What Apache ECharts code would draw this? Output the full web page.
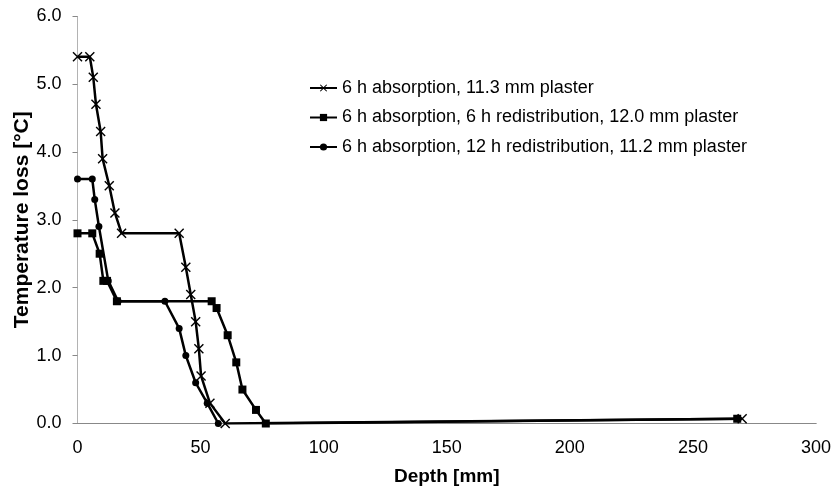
<!DOCTYPE html>
<html>
<head>
<meta charset="utf-8">
<script src="https://cdn.jsdelivr.net/npm/echarts@6/dist/echarts.min.js"></script>
<style>
html, body { margin: 0; padding: 0; background: #fff; }
#chart { width: 834px; height: 495px; }
</style>
</head>
<body>
<div id="chart"></div>
<script>
var seriesNames = [
    '6 h absorption, 11.3 mm plaster',
    '6 h absorption, 6 h redistribution, 12.0 mm plaster',
    '6 h absorption, 12 h redistribution, 11.2 mm plaster'
];

// 6 h absorption
var depthA = [0, 5, 6.4, 7.5, 9.4, 10.2, 12.9, 15.2, 17.9, 41.3, 44, 46, 48, 49.3, 50.2, 53.8, 60, 270];
var lossA  = [5.4, 5.4, 5.1, 4.7, 4.3, 3.9, 3.5, 3.1, 2.8, 2.8, 2.3, 1.9, 1.5, 1.1, 0.7, 0.3, 0, 0.07];

// 6 h redistribution
var depthB = [0, 6, 9, 10.5, 12, 16, 54.5, 56.5, 61, 64.5, 67, 72.5, 76.5, 268];
var lossB  = [2.8, 2.8, 2.5, 2.1, 2.1, 1.8, 1.8, 1.7, 1.3, 0.9, 0.5, 0.2, 0, 0.07];

// 12 h redistribution
var depthC = [0, 6, 7, 8.7, 12.5, 16.5, 35.5, 41.3, 44, 48, 52.7, 57.2];
var lossC  = [3.6, 3.6, 3.3, 2.9, 2.1, 1.8, 1.8, 1.4, 1.0, 0.6, 0.3, 0];

var yTicks = [0, 1, 2, 3, 4, 5, 6];

function pairs(xs, ys) {
    var out = [];
    for (var i = 0; i < xs.length; i++) {
        out.push([xs[i], ys[i]]);
    }
    return out;
}

var crossPath = 'path://M0,1L1,0L5,4L9,0L10,1L6,5L10,9L9,10L5,6L1,10L0,9L4,5Z';
var font = 'Liberation Sans, Arial, sans-serif';

var myChart = echarts.init(document.getElementById('chart'));

function lineSeries(name, data, symbol, size) {
    return {
        name: name,
        type: 'line',
        data: data,
        symbol: symbol,
        symbolSize: size,
        showAllSymbol: true,
        lineStyle: { color: '#000', width: 2.5 },
        itemStyle: { color: '#000' },
        emphasis: { disabled: true },
        animation: false
    };
}

var option = {
    backgroundColor: '#fff',
    textStyle: { fontFamily: font },
    grid: { left: 77.5, right: 18, top: 16, bottom: 71.5, containLabel: false, outerBoundsMode: 'none' },
    legend: {
        orient: 'vertical',
        left: 304,
        top: 74,
        itemWidth: 27,
        itemHeight: 9,
        itemGap: 11.5,
        textStyle: { fontSize: 18, lineHeight: 18, color: '#000', fontFamily: font },
        data: seriesNames
    },
    xAxis: [{
        type: 'value',
        min: 0,
        max: 300,
        interval: 50,
        name: 'Depth [mm]',
        nameLocation: 'middle',
        nameGap: 44,
        nameMoveOverlap: false,
        nameTextStyle: { fontSize: 19, fontWeight: 'bold', color: '#000' },
        axisLine: { onZero: false, lineStyle: { color: '#888', width: 1 } },
        axisTick: { show: false },
        axisLabel: { fontSize: 18, color: '#000', margin: 16 },
        splitLine: { show: false }
    }, {
        type: 'value',
        position: 'top',
        min: 0,
        max: 300,
        axisLine: { show: true, lineStyle: { color: '#888', width: 1 } },
        axisTick: { show: false },
        axisLabel: { show: false },
        splitLine: { show: false }
    }],
    yAxis: {
        type: 'value',
        min: yTicks[0],
        max: yTicks[yTicks.length - 1],
        interval: 1,
        name: 'Temperature loss [°C]',
        nameLocation: 'middle',
        nameGap: 45,
        nameMoveOverlap: false,
        nameTextStyle: { fontSize: 21, fontWeight: 'bold', color: '#000' },
        axisLine: { show: true, lineStyle: { color: '#aaa', width: 1, type: 'dotted' } },
        axisTick: { show: true, length: 5, lineStyle: { color: '#888' } },
        axisLabel: {
            fontSize: 18,
            color: '#000',
            margin: 16,
            formatter: function (v) { return v.toFixed(1); }
        },
        splitLine: { show: false }
    },
    series: [
        lineSeries(seriesNames[0], pairs(depthA, lossA), crossPath, 10),
        lineSeries(seriesNames[1], pairs(depthB, lossB), 'rect', 8),
        lineSeries(seriesNames[2], pairs(depthC, lossC), 'circle', 7)
    ]
};
myChart.setOption(option);
</script>
</body>
</html>
